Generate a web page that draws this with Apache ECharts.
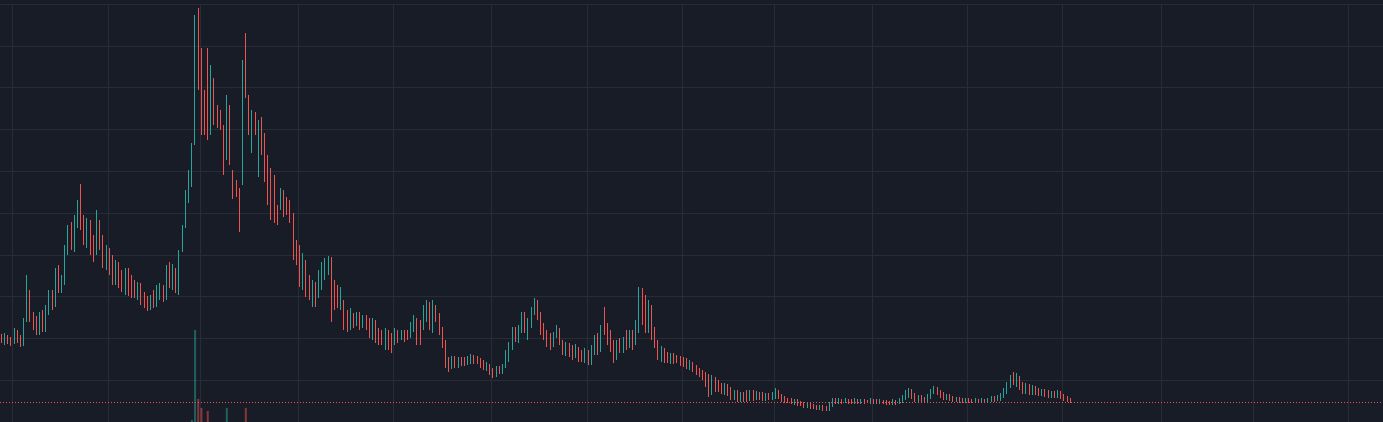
<!DOCTYPE html>
<html>
<head>
<meta charset="utf-8">
<style>
  html, body { margin: 0; padding: 0; background: #181c26; }
  #chart { width: 1383px; height: 422px; }
</style>
<script src="https://cdn.jsdelivr.net/npm/echarts@6/dist/echarts.min.js"></script>
</head>
<body>
<div id="chart"></div>
<script>
// ---- data (price units, daily candles) ----
const startDate = '2020-12-28';
const slotCount = 436;           // visible daily slots incl. empty future space
const gridLineIdx = [4, 34, 63, 94, 124, 155, 185, 215, 244, 275, 305, 335, 366, 395, 425];

const opens = [
85,80,85,82,80,89,84,78,102,130,
107,102,92,110,92,110,128,119,142,132,
140,170,194,174,197,214,200,179,200,182,
172,197,182,160,170,160,142,157,147,132,
150,140,137,126,137,127,122,114,124,117,
126,134,125,152,140,150,130,172,197,222,
242,282,394,367,329,322,289,342,310,307,
295,265,315,249,240,232,239,357,325,272,
309,265,289,287,262,252,245,212,215,229,
222,217,202,177,172,135,160,142,122,135,
127,142,154,160,162,137,130,117,119,104,
97,107,100,106,97,104,100,87,97,92,
90,80,89,86,80,88,84,89,88,87,
94,100,97,95,104,116,94,114,104,92,
77,64,55,64,57,63,62,59,60,65,
63,62,59,54,56,52,47,54,50,56,
64,77,92,82,92,107,87,97,110,120,
107,94,87,84,78,87,92,80,70,76,
72,66,72,68,62,70,60,70,82,72,
107,97,87,77,64,79,72,82,77,87,
80,92,130,124,92,112,92,79,64,72,
67,60,66,64,64,62,60,54,58,54,
52,50,47,42,30,40,39,36,30,35,
32,24,30,24,28,27,23,29,24,28,
27,24,27,24,25,30,26,24,22,22,
19,21,19,18,16,18,16,15,13,15,
14,12,17,22,19,22,20,22,21,19,
22,19,21,21,19,22,21,19,21,20,
20,18,21,19,21,24,28,31,27,22,
25,23,22,25,30,34,30,28,24,26,
24,21,23,22,20,22,21,20,22,20,
22,20,22,24,22,23,26,30,36,46,
38,44,37,30,36,30,34,32,28,31,
30,26,29,26,29,26,24,22
];
const closes = [
81,86,81,79,90,82,77,100,132,104,
97,94,107,94,112,127,117,137,132,142,
172,192,177,200,212,197,182,197,177,172,
200,177,160,172,154,144,157,142,134,150,
132,132,127,137,122,117,115,124,117,127,
134,124,147,140,152,132,167,194,227,247,
272,397,352,335,289,292,354,302,295,297,
250,325,259,225,227,227,357,327,289,310,
289,297,269,265,222,205,200,199,232,222,
209,202,177,172,142,167,137,127,137,122,
147,157,162,164,122,117,122,132,102,94,
110,100,107,97,104,97,87,100,84,82,
84,90,79,78,89,82,90,85,84,97,
104,92,87,110,117,104,117,104,90,77,
57,54,64,56,64,60,58,62,65,60,
59,56,54,58,50,46,54,50,56,67,
77,92,85,94,107,94,100,112,120,104,
92,86,78,77,87,92,79,72,77,68,
66,74,64,64,70,62,72,82,72,92,
97,82,74,64,77,72,82,77,87,80,
97,130,122,92,117,87,77,67,72,64,
62,66,61,62,59,57,55,59,52,50,
47,44,37,32,42,34,32,31,36,29,
26,30,24,29,22,23,30,24,29,24,
23,27,24,28,30,25,22,21,21,19,
21,18,17,16,18,15,14,13,15,13,
12,18,22,19,22,20,22,19,20,22,
19,21,19,20,22,20,19,21,19,19,
18,21,19,22,25,30,32,25,22,25,
22,21,26,31,34,29,26,24,26,23,
21,23,21,20,22,20,20,22,20,22,
20,22,24,22,24,27,32,37,44,40,
45,34,32,36,31,34,30,29,31,28,
27,29,26,30,25,23,21,20
];
const highs = [
88,89,87,85,94,92,87,104,147,132,
110,106,110,112,117,132,132,154,157,147,
177,197,200,207,222,238,207,204,202,187,
212,202,187,177,174,167,162,160,152,154,
154,147,142,140,139,130,126,127,132,137,
139,137,157,160,158,154,172,197,232,252,
279,407,414,374,332,374,357,344,317,312,
297,327,317,252,242,234,362,389,327,312,
310,302,305,289,267,254,247,217,234,232,
225,222,209,182,177,169,162,147,142,140,
152,160,164,166,165,142,137,135,122,112,
114,109,110,110,107,107,104,104,102,94,
92,94,92,89,94,92,92,92,92,100,
107,104,102,117,122,120,122,117,109,95,
82,65,66,66,65,65,65,66,68,67,
66,64,62,60,58,54,56,56,58,72,
80,95,95,97,110,110,104,115,124,122,
110,99,92,89,90,97,94,82,80,79,
77,78,75,72,74,72,77,87,89,97,
115,99,92,82,82,84,85,92,92,92,
102,135,134,127,122,117,95,82,76,74,
70,69,69,67,66,65,64,62,60,57,
54,52,50,48,47,45,42,39,39,38,
35,32,32,30,30,32,32,32,31,30,
30,29,29,30,34,32,28,26,24,24,
23,23,21,20,20,19,18,17,17,17,
16,20,24,24,24,23,24,23,23,24,
23,23,23,22,24,23,23,23,22,22,
21,23,22,24,27,32,34,33,29,27,
27,25,28,33,36,35,32,30,28,28,
26,25,25,24,24,24,23,24,23,24,
23,24,26,26,27,29,34,40,47,50,
49,46,40,39,38,37,36,34,33,33,
32,31,31,32,31,28,26,24
];
const lows = [
79,77,78,76,78,79,75,76,100,100,
92,87,87,90,90,107,112,115,129,129,
137,167,172,170,194,192,177,174,167,160,
167,172,154,152,147,137,137,134,130,127,
126,124,124,122,117,114,111,112,114,115,
122,120,122,134,132,129,127,170,194,219,
235,277,332,287,287,282,287,297,294,292,
247,262,257,223,225,190,237,324,287,269,
287,245,267,240,217,202,199,197,212,205,
207,199,162,157,135,132,125,122,115,115,
124,132,142,147,100,112,114,112,92,90,
92,94,96,92,94,92,84,82,79,77,
77,72,72,69,77,79,82,80,82,84,
90,77,77,92,100,92,89,100,87,74,
54,50,53,54,54,56,56,57,58,58,
58,54,52,51,47,44,45,48,48,54,
60,72,80,79,89,89,82,94,107,102,
87,82,75,72,75,84,77,67,66,65,
62,64,60,60,59,57,57,67,67,70,
87,77,70,59,62,69,69,72,74,72,
77,89,97,89,89,82,74,62,60,59,
59,58,58,59,56,55,53,52,50,47,
45,42,35,25,27,30,30,28,27,26,
22,22,20,20,20,20,21,21,22,22,
21,21,22,22,23,23,20,19,19,18,
17,16,16,14,14,13,13,12,12,11,
11,11,15,18,18,18,19,18,18,18,
18,18,18,19,18,18,18,18,18,17,
17,17,17,18,19,22,24,23,20,20,
20,19,20,23,28,27,24,22,22,21,
20,20,19,19,19,19,19,19,19,19,
19,19,20,20,21,21,24,28,34,37,
35,32,28,28,27,27,27,26,26,25,
24,24,24,24,23,21,20,19
];
const volumes = [
12,10,9,11,14,10,12,18,35,22,15,12,14,11,16,20,14,25,28,18,
30,32,24,26,30,45,28,22,25,20,28,22,18,16,15,17,14,13,15,14,
12,11,13,12,14,15,13,12,11,13,12,11,18,16,14,13,22,30,38,45,
60,90,67,64,55,63,50,45,40,38,42,64,48,40,35,44,50,64,42,38,
35,33,30,32,36,40,35,30,28,26,25,27,30,26,24,28,25,22,20,21,
22,20,19,18,30,22,19,18,20,17,16,15,14,15,13,14,16,14,15,13,
12,13,14,12,11,12,11,12,11,13,15,14,13,16,17,15,18,14,15,17,
22,18,14,12,11,10,10,9,10,9,10,9,10,11,10,12,10,9,10,14,
18,22,16,15,18,14,16,20,22,18,16,15,14,13,12,11,13,12,11,10,
10,11,10,9,10,11,10,14,12,15,20,16,14,13,12,11,10,11,10,12,
15,28,22,18,16,15,13,12,11,10,9,9,8,9,8,8,9,8,8,9,
8,9,12,14,10,9,8,8,7,8,9,8,7,8,7,7,8,7,7,6,
6,6,7,6,7,6,6,5,5,6,5,5,5,6,5,5,5,6,5,5,
6,8,7,5,5,5,5,5,4,5,4,5,4,4,5,4,4,5,4,4,
4,5,4,5,7,10,9,7,6,5,5,5,6,8,9,7,6,5,5,5,
4,4,5,4,4,4,4,4,5,4,4,4,5,5,5,6,8,11,15,12,
12,10,8,7,7,6,6,6,5,5,5,5,5,6,5,5,5,4
];

// ---- build what the library needs ----
const UP = '#26a69a', DOWN = '#ef5350';
const categories = [];
const d0 = new Date(startDate + 'T00:00:00Z');
for (let i = 0; i < slotCount; i++) {
  const d = new Date(d0.getTime() + i * 86400000);
  categories.push(d.toISOString().slice(0, 10));
}
const candleData = opens.map((o, i) => [o, closes[i], lows[i], highs[i]]);
const volData = volumes.map((v, i) => ({
  value: v,
  itemStyle: { color: closes[i] >= opens[i] ? 'rgba(38,166,154,0.5)' : 'rgba(239,83,80,0.5)' }
}));
const gridSet = new Set(gridLineIdx);
const lastClose = closes[closes.length - 1];

const chart = echarts.init(document.getElementById('chart'), null, { renderer: 'canvas' });
chart.setOption({
  backgroundColor: '#181c26',
  animation: false,
  grid: [
    { left: 0, right: 0, top: 4, bottom: 0 },
    { left: 0, right: 0, top: 300, bottom: 0 }
  ],
  xAxis: [
    {
      type: 'category', data: categories, gridIndex: 0, boundaryGap: true,
      axisLine: { show: false }, axisTick: { show: false }, axisLabel: { show: false },
      splitLine: { show: true, interval: (idx) => gridSet.has(idx), lineStyle: { color: '#282c37', width: 1 } }
    },
    {
      type: 'category', data: categories, gridIndex: 1, boundaryGap: true,
      axisLine: { show: false }, axisTick: { show: false }, axisLabel: { show: false },
      splitLine: { show: false }
    }
  ],
  yAxis: [
    {
      type: 'value', gridIndex: 0, min: 0, max: 418, interval: 41.8,
      axisLine: { show: false }, axisTick: { show: false }, axisLabel: { show: false },
      splitLine: { show: true, lineStyle: { color: '#282c37', width: 1 } }
    },
    {
      // volume overlay: only the tops of the largest volume bars reach into view
      type: 'value', gridIndex: 1, min: 59.3, max: 100,
      axisLine: { show: false }, axisTick: { show: false }, axisLabel: { show: false },
      splitLine: { show: false }
    }
  ],
  series: [
    {
      type: 'bar', xAxisIndex: 1, yAxisIndex: 1, data: volData,
      barWidth: 2, silent: true, clip: true
    },
    {
      type: 'candlestick', xAxisIndex: 0, yAxisIndex: 0, data: candleData,
      barWidth: 1,
      itemStyle: {
        color: UP, color0: DOWN, borderColor: UP, borderColor0: DOWN, borderWidth: 1
      },
      markLine: {
        silent: true, symbol: ['none', 'none'],
        label: { show: false },
        lineStyle: { color: DOWN, type: [1, 2], width: 1 },
        data: [{ yAxis: lastClose }]
      }
    }
  ]
});
</script>
</body>
</html>
